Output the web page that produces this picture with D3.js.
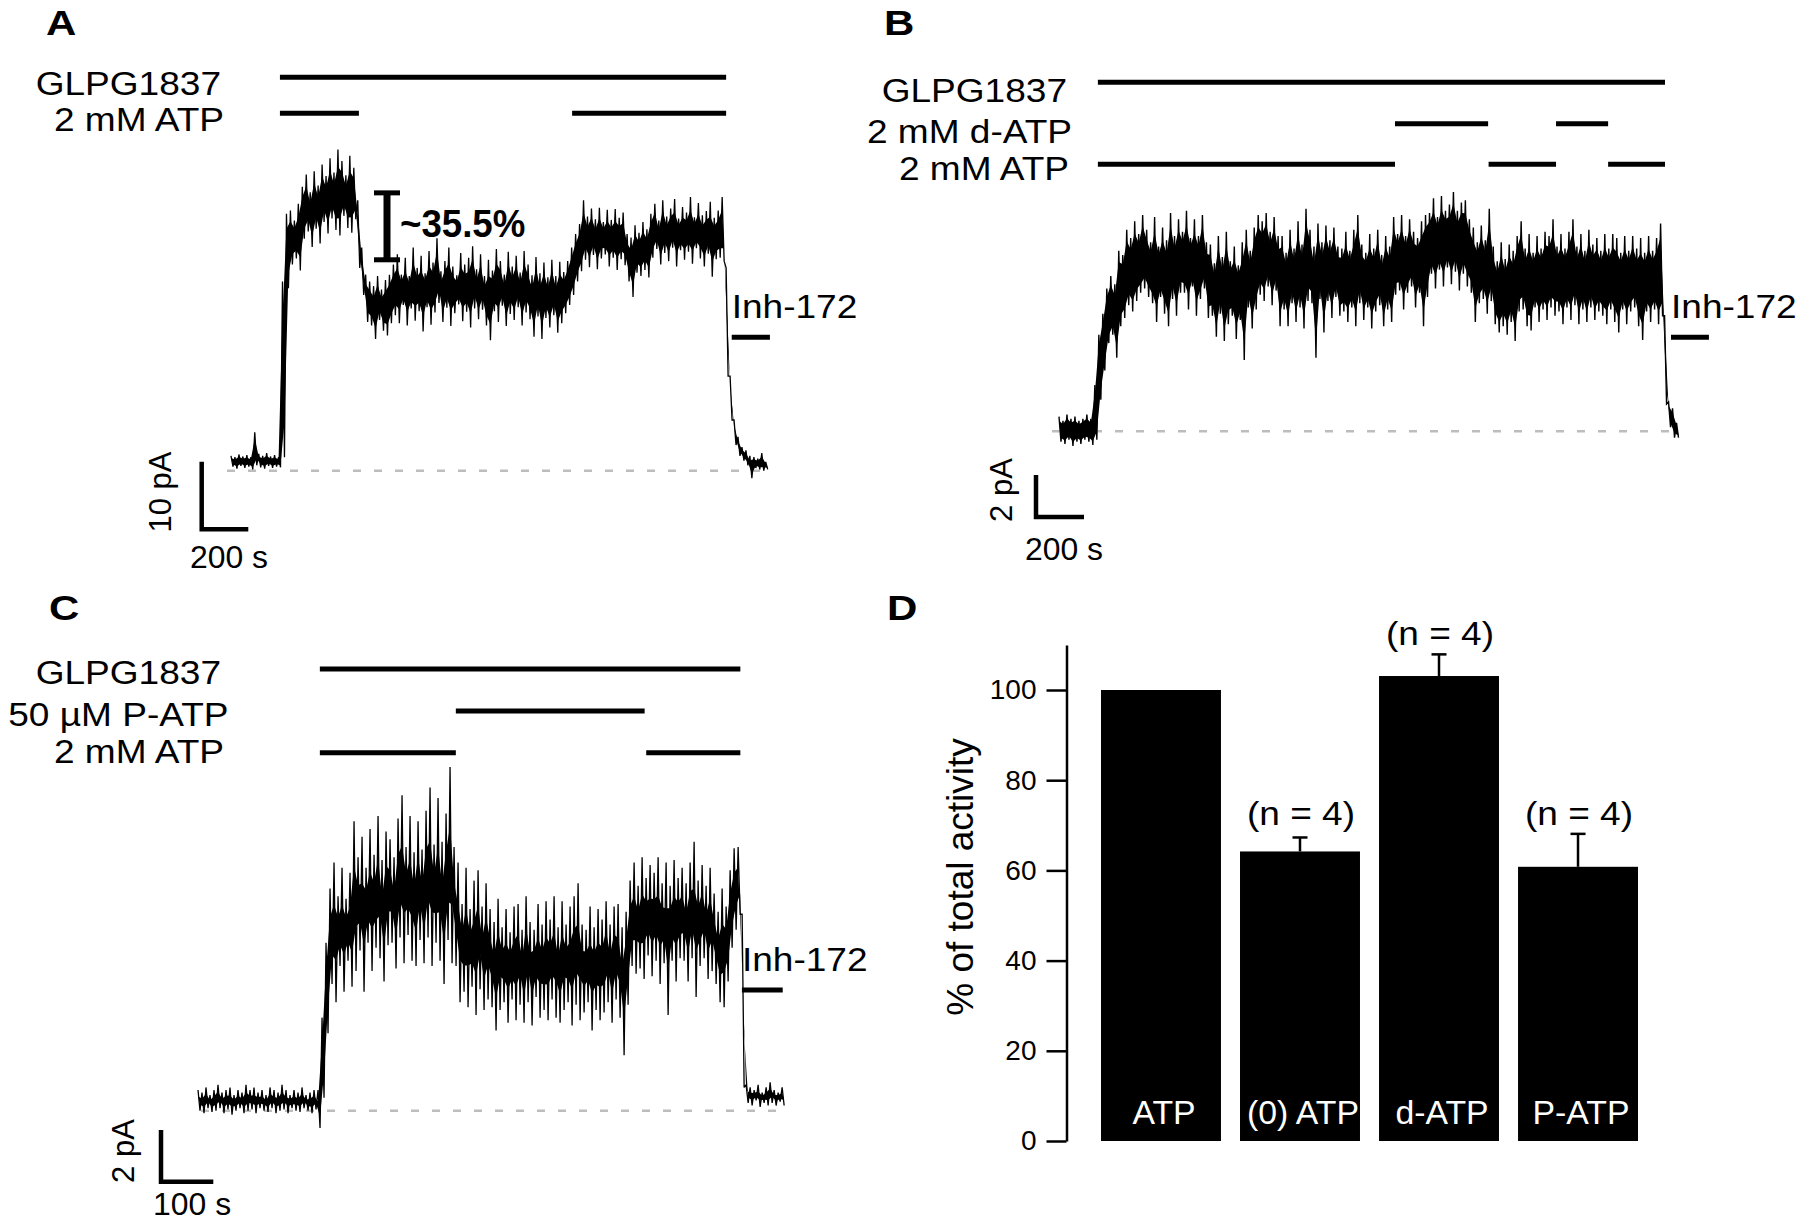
<!DOCTYPE html>
<html><head><meta charset="utf-8">
<script src="https://cdn.jsdelivr.net/npm/d3@7"></script>
<style>
html,body{margin:0;padding:0;background:#fff;}
svg{display:block;}
text{font-family:"Liberation Sans",Arial,Helvetica,sans-serif;fill:#000;}
</style></head><body>
<svg id="fig" width="1800" height="1225"></svg>
<script>
// ---------------- DATA ----------------
// Panel A trace: max / min current (pA) per time bin, bin width traceA_dt seconds
const traceA_dt = 17;
const traceA_hi = [2.2,2.0,2.4,2.1,2.3,2.0,5.7,2.5,2.2,2.6,2.1,2.3,2.0,
 28,38,
 38.5,37,39.5,
 42,43.8,41.2,44.3,42.2,
 45.3,43.6,46.2,44.1,47.5,45.8,43.7,46.6,44.8,
 40,33,29,
 28,27.3,28.8,26.8,28.2,29,
 30.5,32,29,31.5,28.8,33,30,31.8,29.2,32.5,30.8,34.4,29.5,31,33,30.2,28.9,32.2,30.5,31.5,33.2,29.8,32,28.8,31.2,29.6,32.8,31,29,32.4,30.2,31.8,29.3,32.5,30.5,28.9,31.6,29.2,30.8,28.6,31.2,28.8,30.9,29.4,
 31,33,35,36.5,
 40,37.6,38.8,37.2,38.9,36.8,38.6,37.1,38.7,37.4,38.2,
 35,34.5,
 36.3,35.2,36.8,35.7,
 38,39.5,37,40,37.6,38.8,40.2,37.3,39,38.2,40.5,37.5,39.6,37.8,38.4,39.8,37.4,
 38.5,40.5,
 30,14,7.5,5,3.5,3,2.2,2.0,1.8,2.6,1.3];
const traceA_lo = [0.6,0.3,0.7,0.4,0.6,0.2,0.8,0.5,0.3,0.7,0.4,0.6,0.5,
 2.0,27,
 30.5,31.4,29.6,
 34.3,35.4,33.1,35.8,33.6,
 36.8,35.1,37.3,35.6,34.8,37.7,35.9,35.2,37.2,
 30,26,22,
 21.5,19.5,22.3,20.7,20,21.8,
 23,21.8,24.5,21.5,24,22.2,23.6,20.6,24.2,21.6,23.4,24.8,22,24.1,21.4,23.3,24.6,22.1,23.5,21.2,24,22.4,23.8,21.5,19.3,23.6,22,24.4,21.4,23.2,22.3,24.2,21.5,23.4,22.4,19.8,22.8,19.5,22.6,21.2,23,20.4,21.8,23.3,
 24.5,26,28,29.5,
 31.2,30.1,31.9,29.8,31.4,32,30.2,31.5,29.7,31.3,30.4,
 28,25.7,
 29.3,28.8,29.7,28.6,
 31.5,32.8,30.5,32.2,31,33,30.2,32.6,31.2,32.4,30.6,32.9,31.4,30.2,32.1,28.7,31.3,
 31.5,31,
 14,7.5,3.8,2.2,1.5,0.8,-1.1,0.4,0.2,0.0,0.2];

// Panel B trace
const traceB_dt = 16.6;
const traceB_hi = [0.7,0.5,0.8,0.6,0.7,0.5,0.6,0.8,0.6,
 2.2,4.6,5.6,6.8,7.4,7.0,8.6,8.4,9.6,9.2,10.0,9.4,10.3,9.6,
 9.0,10.2,8.8,9.7,9.1,10.4,9.3,10.1,
 9.5,10.5,9.2,10.1,9.3,10.3,9.0,
 8.9,8.0,9.3,8.3,9.5,8.1,8.8,7.9,
 9.0,9.6,8.6,9.7,
 10.3,10.0,10.4,9.5,10.2,9.3,
 9.3,8.5,9.6,8.7,10.0,8.9,10.6,
 9.6,8.8,9.9,9.0,9.8,9.1,9.7,8.8,
 8.7,9.5,8.6,9.6,10.3,8.9,8.5,9.4,8.7,9.6,8.4,9.3,8.8,
 10.2,9.4,10.3,9.3,10.1,9.5,9.2,10.0,10.3,
 10.4,11.1,10.2,11.2,10.5,10.8,11.4,10.5,10.9,11.0,10.1,
 9.7,9.0,9.8,9.1,10.6,
 8.8,8.1,9.0,8.2,8.9,
 8.6,9.3,10.0,8.7,9.4,8.5,9.3,8.7,9.5,
 9.3,10.1,8.8,9.4,8.7,9.5,10.1,8.8,9.4,8.6,9.6,8.9,
 9.2,8.6,9.4,8.7,9.4,9.2,8.5,9.3,8.6,9.3,8.7,9.2,8.5,9.3,8.6,9.2,
 9.9,5.5,1.4,1.1,0.4];
const traceB_lo = [-0.5,-0.6,-0.4,-0.7,-0.5,-0.6,-0.4,-0.5,-0.65,
 -0.4,1.5,2.9,4.2,4.6,3.5,5.0,5.4,6.0,5.7,6.2,6.6,6.8,6.4,
 6.1,5.2,6.4,5.6,5.0,6.3,5.5,6.6,
 6.6,5.8,6.9,5.5,6.3,6.8,5.4,
 5.5,4.5,5.6,4.3,5.1,5.5,4.4,5.3,
 3.4,5.9,4.9,5.8,
 6.5,6.2,6.9,6.0,6.7,5.0,
 5.8,5.0,6.1,5.2,5.9,4.9,6.2,
 6.1,3.5,6.3,4.7,6.2,5.4,6.4,5.5,
 5.7,5.2,5.9,5.0,6.1,5.3,5.9,4.9,5.7,6.0,5.0,5.8,5.2,
 6.5,6.7,5.8,6.6,6.9,5.9,6.6,5.0,6.4,
 7.5,6.8,7.7,6.9,7.8,7.0,7.6,6.7,7.5,6.9,6.6,
 5.2,6.1,6.3,5.6,6.2,
 5.1,4.7,5.0,4.6,5.2,
 4.3,5.7,5.8,5.0,4.8,5.9,5.2,5.8,5.3,
 5.9,5.5,5.7,5.1,5.9,5.3,6.0,5.1,5.8,5.2,5.9,5.3,
 5.7,5.5,5.1,5.8,5.2,4.7,5.8,5.1,5.7,5.9,5.0,4.35,5.7,5.2,5.8,5.1,
 5.5,1.3,0.2,-0.3,-0.3];

// Panel C trace
const traceC_dt = 7.65;
const traceC_hi = [0.8,0.7,0.9,0.6,0.8,1.0,0.7,0.8,0.9,0.6,0.8,0.7,1.0,0.8,0.9,0.7,0.8,0.6,0.9,0.8,0.7,1.0,0.8,0.6,0.8,0.7,0.9,0.6,0.7,0.8,
 0.8,3.6,6.5,
 8.6,9.6,8.3,9.4,8.2,9.2,11.2,
 9.8,10.6,9.4,10.9,9.9,11.4,9.7,10.8,
 10.5,9.8,11.3,12.2,10.2,11.4,10.0,11.2,10.1,11.6,12.5,10.3,12.1,10.4,11.5,13.3,
 10.2,9.6,
 8.0,9.4,7.8,8.9,9.3,7.9,8.8,7.8,
 7.3,8.2,7.1,7.8,6.9,7.9,8.0,7.0,8.3,7.3,7.0,8.0,7.2,8.1,7.4,8.3,
 7.1,8.1,7.2,7.9,8.3,8.8,7.2,7.0,7.9,7.1,7.8,7.4,8.1,7.2,7.9,8.0,7.1,7.7,
 8.9,9.6,8.7,9.8,9.0,9.5,9.2,9.8,8.8,9.6,8.7,9.7,9.0,
 9.4,8.8,9.6,10.4,8.9,9.5,8.7,9.4,
 8.4,7.7,8.6,7.9,
 9.3,10.15,10.2,
 7.6,
 1.0,0.9,0.8,1.0,0.7,0.9,1.1,0.8,0.7,0.9];
const traceC_lo = [0.0,-0.1,0.1,-0.05,0.0,0.1,-0.1,0.05,-0.15,0.0,0.1,-0.1,0.0,0.05,-0.1,0.1,0.0,-0.05,0.1,-0.1,0.0,0.05,-0.1,0.1,0.0,-0.05,0.1,0.0,-0.1,0.05,
 -0.67,0.5,3.0,
 4.9,4.2,5.6,4.6,5.8,4.8,5.4,
 6.2,4.6,6.5,5.4,6.3,5.9,5.0,6.4,
 6.5,5.5,6.7,5.7,6.8,5.8,5.6,6.6,5.7,6.7,5.6,6.5,5.8,4.9,6.6,5.7,
 5.6,4.2,
 4.6,4.0,4.8,3.7,4.7,3.9,4.3,4.0,
 3.1,3.9,4.2,3.4,4.3,3.5,4.1,3.4,4.2,3.3,4.4,3.6,3.9,3.5,4.3,3.6,
 3.4,3.9,4.2,3.3,4.1,3.5,3.8,4.2,3.1,3.9,3.5,3.8,4.2,3.4,4.3,3.6,2.15,4.1,
 5.6,5.3,5.5,5.1,6.0,5.2,5.8,4.9,5.7,3.7,5.8,5.0,5.9,
 5.8,5.0,5.9,4.4,5.6,5.9,5.1,5.4,
 4.9,4.2,4.0,5.0,
 6.3,7.0,7.6,
 0.9,
 0.3,0.2,0.4,0.15,0.3,0.2,0.3,0.2,0.35,0.2];

// Solution application periods (s from start of each recording)
const appA_labels = ["GLPG1837", "2 mM ATP"];
const appA_GLPG = [[210, 2125]];
const appA_ATP  = [[210, 549], [1464, 2125]];
const inhA = [2149, 2313];

const appB_labels = ["GLPG1837", "2 mM d-ATP", "2 mM ATP"];
const appB_GLPG = [[162, 2525]];
const appB_dATP = [[1400, 1788], [2071, 2288]];
const appB_ATP  = [[162, 1400], [1790, 2071], [2288, 2525]];
const inhB = [2550, 2708];

const appC_labels = ["GLPG1837", "50 µM P-ATP", "2 mM ATP"];
const appC_GLPG = [[233, 1037]];
const appC_PATP = [[493, 854]];
const appC_ATP  = [[233, 493], [857, 1037]];
const inhC = [1040, 1118];

// Panel D bar chart
const categories   = ["ATP", "(0) ATP", "d-ATP", "P-ATP"];
const meanActivity = [100, 64.2, 103.1, 60.8];
const semActivity  = [0, 3.1, 4.8, 7.3];
const nLabels      = ["", "(n = 4)", "(n = 4)", "(n = 4)"];
const yTicks       = [0, 20, 40, 60, 80, 100];

// ---------------- DRAWING ----------------
const svg = d3.select("#fig");
svg.append("rect").attr("width", 1800).attr("height", 1225).attr("fill", "#fff");

function label(g, x, y, str, o = {}) {
  const size = o.size || 32.5, k = o.k == null ? 1.14 : o.k;
  let tr = `translate(${x},${y}) scale(${k},1)`;
  if (o.rot) tr += ` rotate(${o.rot})`;
  return g.append("text").attr("transform", tr)
    .attr("font-size", size)
    .attr("text-anchor", o.anchor || "start")
    .attr("font-weight", o.weight || "normal")
    .style("fill", o.fill || "#000")
    .text(str);
}

// min/max decimated trace: max at start of bin, min at mid-bin
function tracePoints(dt, hi, lo) {
  const pts = [];
  hi.forEach((h, i) => { pts.push([i * dt, h]); pts.push([i * dt + dt / 2, lo[i]]); });
  return pts;
}

function drawTracePanel(g, cfg) {
  const x = cfg.x, y = cfg.y;
  const line = d3.line().x(d => x(d[0])).y(d => y(d[1]));
  // baseline (zero current)
  g.append("line")
    .attr("x1", cfg.dashX[0]).attr("x2", cfg.dashX[1])
    .attr("y1", y(0)).attr("y2", y(0))
    .attr("stroke", "#bdbdbd").attr("stroke-width", 2.6)
    .attr("stroke-dasharray", "8,13");
  // dense core of the noisy recording (inner part of the min/max envelope)
  if (cfg.core != null) {
    const f = cfg.core, dt = cfg.dt;
    const top = cfg.hi.map((h, i) => [i * dt, h - f * (h - cfg.lo[i])]);
    const bot = cfg.lo.map((l, i) => [i * dt + dt / 2, l + f * (cfg.hi[i] - l)]).reverse();
    g.append("path").attr("d", line(top.concat(bot)) + "Z").attr("fill", "#000");
  }
  // trace
  g.append("path").datum(tracePoints(cfg.dt, cfg.hi, cfg.lo))
    .attr("d", line).attr("fill", "none")
    .attr("stroke", "#000").attr("stroke-width", cfg.sw)
    .attr("stroke-linejoin", "miter").attr("stroke-miterlimit", 3);
  // application bars
  cfg.apps.forEach((rows, r) => {
    rows.forEach(seg => {
      g.append("line")
        .attr("x1", x(seg[0])).attr("x2", x(seg[1]))
        .attr("y1", cfg.appY[r]).attr("y2", cfg.appY[r])
        .attr("stroke", "#000").attr("stroke-width", 5);
    });
    label(g, cfg.labelX[r], cfg.labelBase[r], cfg.labels[r], { anchor: "end" });
  });
  // inhibitor bar + label
  g.append("line")
    .attr("x1", x(cfg.inh[0])).attr("x2", x(cfg.inh[1]))
    .attr("y1", cfg.inhY).attr("y2", cfg.inhY)
    .attr("stroke", "#000").attr("stroke-width", 5);
  label(g, x(cfg.inh[0]), cfg.inhY - 19, "Inh-172");
  // scale bar
  const sb = cfg.sb;
  const vLen = y(0) - y(sb.pA), hLen = x(sb.sec) - x(0);
  g.append("path")
    .attr("d", `M${sb.x},${sb.top}V${sb.top + vLen}H${sb.x + hLen}`)
    .attr("fill", "none").attr("stroke", "#000").attr("stroke-width", 4.5);
  label(g, sb.vtX, sb.vtY, `${sb.pA} pA`, { size: 31, k: 1, anchor: "middle", rot: -90 });
  label(g, sb.x + hLen / 2 + sb.htDx, sb.htY, `${sb.sec} s`, { size: 31, k: 1.03, anchor: "middle" });
}

// Panel A
const gA = svg.append("g");
const xA = d3.scaleLinear().domain([0, 2300]).range([231, 231 + 0.233 * 2300]);
const yA = d3.scaleLinear().domain([0, 10]).range([470.7, 403.1]);
drawTracePanel(gA, {
  x: xA, y: yA, dt: traceA_dt, hi: traceA_hi, lo: traceA_lo, core: 0.2, sw: 1.3,
  dashX: [227, 768],
  apps: [appA_GLPG, appA_ATP], appY: [77.3, 113.3],
  labels: appA_labels, labelX: [221, 224], labelBase: [95, 131],
  inh: inhA, inhY: 337.3,
  sb: { x: 201.7, top: 461.7, pA: 10, sec: 200, vtX: 170.5, vtY: 492, htY: 568, htDx: 4 }
});
// 35.5% reduction marker
{
  const sx = 387, yTop = yA(41.1), yBot = yA(31.2);
  gA.append("line").attr("x1", sx).attr("x2", sx).attr("y1", yTop).attr("y2", yBot)
    .attr("stroke", "#000").attr("stroke-width", 7);
  [yTop, yBot].forEach(yy => gA.append("line").attr("x1", 374).attr("x2", 400)
    .attr("y1", yy).attr("y2", yy).attr("stroke", "#000").attr("stroke-width", 5));
  label(gA, 400, 236.7, "~35.5%", { size: 39, k: 0.94, weight: "bold" });
}
label(gA, 46, 35, "A", { size: 35, k: 1.2, weight: "bold" });

// Panel B
const gB = svg.append("g");
const xB = d3.scaleLinear().domain([0, 2573]).range([1059, 1059 + 0.24 * 2573]);
const yB = d3.scaleLinear().domain([0, 2]).range([431.3, 389.3]);
drawTracePanel(gB, {
  x: xB, y: yB, dt: traceB_dt, hi: traceB_hi, lo: traceB_lo, core: 0.15, sw: 1.4,
  dashX: [1052, 1676],
  apps: [appB_GLPG, appB_dATP, appB_ATP], appY: [82.3, 123.7, 164.3],
  labels: appB_labels, labelX: [1067, 1072, 1069], labelBase: [101.7, 143.3, 180],
  inh: inhB, inhY: 337.3,
  sb: { x: 1036, top: 475, pA: 2, sec: 200, vtX: 1012, vtY: 490, htY: 560, htDx: 4 }
});
label(gB, 884, 35, "B", { size: 35, k: 1.2, weight: "bold" });

// Panel C
const gC = svg.append("g");
const xC = d3.scaleLinear().domain([0, 1117]).range([198, 198 + 0.523 * 1117]);
const yC = d3.scaleLinear().domain([0, 2]).range([1110.7, 1059]);
drawTracePanel(gC, {
  x: xC, y: yC, dt: traceC_dt, hi: traceC_hi, lo: traceC_lo, core: 0.3, sw: 1.3,
  dashX: [201, 787],
  apps: [appC_GLPG, appC_PATP, appC_ATP], appY: [669, 711, 752.8],
  labels: appC_labels, labelX: [221, 228.5, 224], labelBase: [684, 726, 762.5],
  inh: inhC, inhY: 990,
  sb: { x: 161, top: 1130, pA: 2, sec: 100, vtX: 134, vtY: 1151, htY: 1215, htDx: 5 }
});
label(gC, 49, 620, "C", { size: 35, k: 1.2, weight: "bold" });

// Panel D
const gD = svg.append("g");
const yD = d3.scaleLinear().domain([0, 110]).range([1141, 1141 - 4.51 * 110]);
const xD = d3.scaleBand().domain(categories).range([1101, 1638]).paddingInner(0.137).paddingOuter(0);
gD.append("g").attr("transform", "translate(1066.5,0)")
  .call(d3.axisLeft(yD).tickValues(yTicks).tickSize(20).tickSizeOuter(0).tickPadding(10))
  .call(a => {
    a.select(".domain").attr("stroke", "#000").attr("stroke-width", 2.5);
    a.selectAll(".tick line").attr("stroke", "#000").attr("stroke-width", 2.5);
    a.selectAll(".tick text").attr("font-size", 28)
      .attr("font-family", '"Liberation Sans",Arial,sans-serif').style("fill", "#000");
  });
label(gD, 973, 877, "% of total activity", { size: 37, k: 1, anchor: "middle", rot: -90 });
gD.selectAll("rect.bar").data(categories).enter().append("rect")
  .attr("class", "bar")
  .attr("x", d => xD(d)).attr("width", xD.bandwidth())
  .attr("y", (d, i) => yD(meanActivity[i]))
  .attr("height", (d, i) => yD(0) - yD(meanActivity[i]))
  .attr("fill", "#000");
categories.forEach((c, i) => {
  const cx = xD(c) + xD.bandwidth() / 2;
  if (semActivity[i] > 0) {
    const yt = yD(meanActivity[i] + semActivity[i]);
    gD.append("line").attr("x1", cx).attr("x2", cx)
      .attr("y1", yD(meanActivity[i])).attr("y2", yt)
      .attr("stroke", "#000").attr("stroke-width", 2.5);
    gD.append("line").attr("x1", cx - 7.5).attr("x2", cx + 7.5)
      .attr("y1", yt).attr("y2", yt)
      .attr("stroke", "#000").attr("stroke-width", 2.5);
  }
  if (nLabels[i]) {
    const base = i === 2 ? yD(meanActivity[i] + semActivity[i]) - 9 : 825;
    label(gD, cx + 1, base, nLabels[i], { anchor: "middle" });
  }
  label(gD, cx + 3, 1124, c, { anchor: "middle", k: 1.04, fill: "#fff" });
});
label(gD, 887, 620, "D", { size: 35, k: 1.2, weight: "bold" });
</script>
</body></html>
